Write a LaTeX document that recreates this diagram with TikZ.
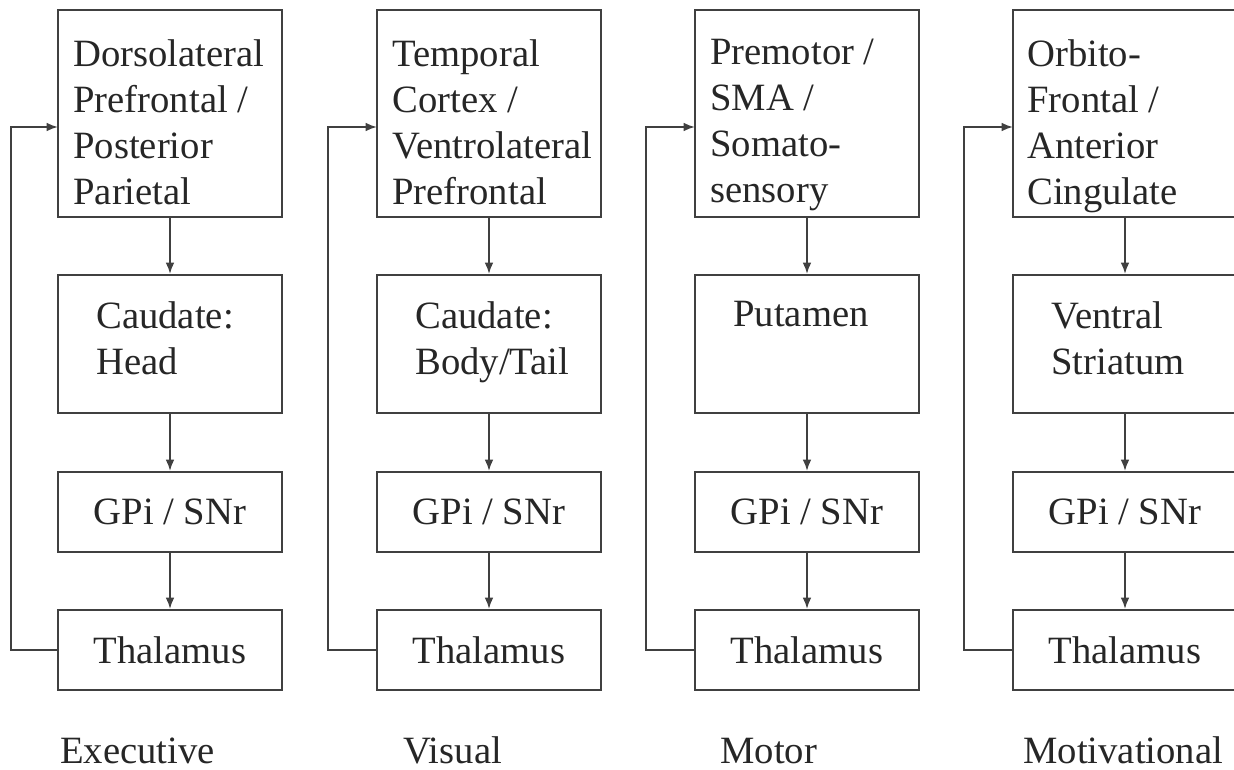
\documentclass[tikz,border=0pt]{standalone}
\usepackage{fontspec}
\setmainfont{Liberation Serif}
\usetikzlibrary{arrows.meta}
\begin{document}
\begin{tikzpicture}
			[x=0.02cm,y=-0.02cm,
			box/.style={rectangle,draw=black!75,line width=1.1pt,minimum width=4.48cm,inner sep=0pt,
				font=\fontsize{22}{26}\selectfont,text=black!85},
			ctxbox/.style={box,minimum height=4.14cm},
			strbox/.style={box,minimum height=2.76cm},
			smallbox/.style={box,minimum height=1.6cm},
			boxtext/.style={anchor=north west,inner sep=0pt,align=flush left,text=black!85,
				font=\fontsize{22}{26.2}\selectfont},
			loop/.style={font=\fontsize{22}{26}\selectfont,text=black!85,anchor=base west,inner sep=0pt},
			link/.style={->,draw=black!75,line width=1.1pt},
			>={Latex[length=6.5pt,width=5pt]}]
			\useasboundingbox(0,0)rectangle(1234,770);
			% executive
			\node[ctxbox,name=exctx]at(170,113.5){};
			\node[boxtext,name=exctxt]at(73,39){Dorsolateral\\Prefrontal /\\Posterior\\Parietal};
			\node[strbox,name=exstr]at(170,344){};
			\node[boxtext,name=exstrt]at(96,301){Caudate:\\Head};
			\node[smallbox,name=exgp]at(170,512){GPi / SNr};
			\node[smallbox,name=exth]at(170,650){Thalamus};
			\coordinate(exin)at(58,127);
			\node[loop,name=exlab]at(60,763){Executive};
			% visual
			\node[ctxbox,name=victx]at(489,113.5){};
			\node[boxtext,name=victxt]at(392,39){Temporal\\Cortex /\\Ventrolateral\\Prefrontal};
			\node[strbox,name=vistr]at(489,344){};
			\node[boxtext,name=vistrt]at(415,301){Caudate:\\Body/Tail};
			\node[smallbox,name=vigp]at(489,512){GPi / SNr};
			\node[smallbox,name=vith]at(489,650){Thalamus};
			\coordinate(viin)at(377,127);
			\node[loop,name=vilab]at(403,763){Visual};
			% motor
			\node[ctxbox,name=moctx]at(807,113.5){};
			\node[boxtext,name=moctxt]at(710,39){Premotor /\\SMA /\\Somato-\\sensory};
			\node[strbox,name=mostr]at(807,344){};
			\node[boxtext,name=mostrt]at(733,301){Putamen};
			\node[smallbox,name=mogp]at(807,512){GPi / SNr};
			\node[smallbox,name=moth]at(807,650){Thalamus};
			\coordinate(moin)at(695,127);
			\node[loop,name=molab]at(720,763){Motor};
			% motivational
			\node[ctxbox,name=mvctx]at(1125,113.5){};
			\node[boxtext,name=mvctxt]at(1027,39){Orbito-\\Frontal /\\Anterior\\Cingulate};
			\node[strbox,name=mvstr]at(1125,344){};
			\node[boxtext,name=mvstrt]at(1051,301){Ventral\\Striatum};
			\node[smallbox,name=mvgp]at(1125,512){GPi / SNr};
			\node[smallbox,name=mvth]at(1125,650){Thalamus};
			\coordinate(mvin)at(1013,127);
			\node[loop,name=mvlab]at(1023,763){Motivational};
			% arrows
			\draw[link](exctx)--(exstr);
			\draw[link](exstr)--(exgp);
			\draw[link](exgp)--(exth);
			\draw[link](exth.west)--++(-46,0)|-(exin);
			\draw[link](victx)--(vistr);
			\draw[link](vistr)--(vigp);
			\draw[link](vigp)--(vith);
			\draw[link](vith.west)--++(-48,0)|-(viin);
			\draw[link](moctx)--(mostr);
			\draw[link](mostr)--(mogp);
			\draw[link](mogp)--(moth);
			\draw[link](moth.west)--++(-48,0)|-(moin);
			\draw[link](mvctx)--(mvstr);
			\draw[link](mvstr)--(mvgp);
			\draw[link](mvgp)--(mvth);
			\draw[link](mvth.west)--++(-48,0)|-(mvin);
		\end{tikzpicture}
\end{document}
